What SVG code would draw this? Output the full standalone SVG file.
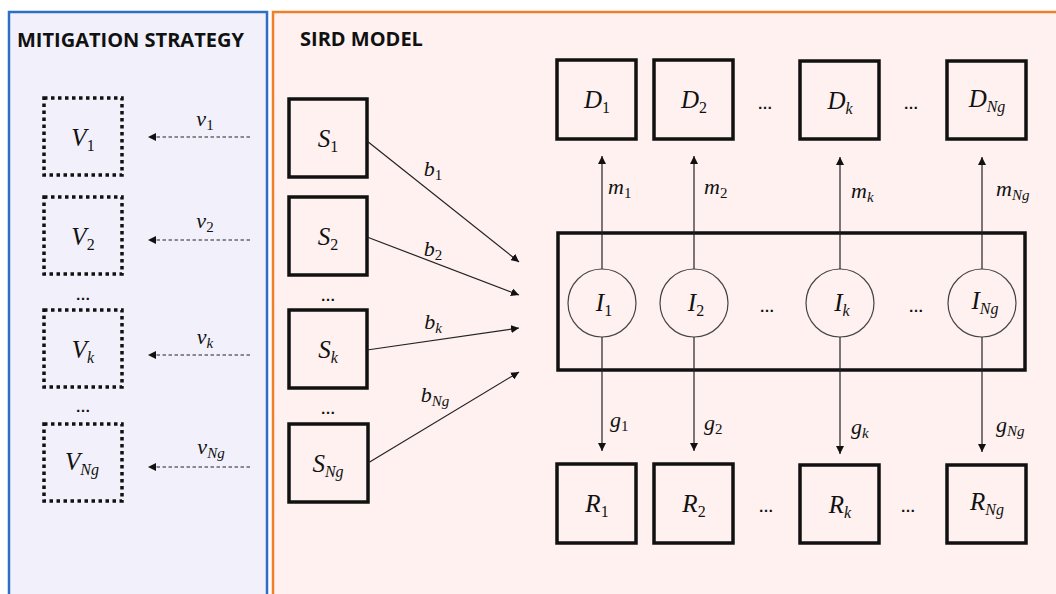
<svg xmlns="http://www.w3.org/2000/svg" width="1056" height="594" viewBox="0 0 1056 594">
<defs>
<marker id="ah" viewBox="0 0 10 10" refX="10" refY="5" markerWidth="8" markerHeight="8" markerUnits="userSpaceOnUse" orient="auto">
<path d="M0,0 L10,5 L0,10 z" fill="#111"/>
</marker>
</defs>
<style>
.title{font-family:"Open Sans","Liberation Sans",sans-serif;font-weight:bold;font-size:20px;fill:#111}
.box{fill:none;stroke:#111;stroke-width:3.5}
.vbox{fill:none;stroke:#111;stroke-width:3.5;stroke-dasharray:3.5 3.5}
.circ{fill:none;stroke:#444;stroke-width:1.2}
.m{font-family:"Liberation Serif","DejaVu Serif",serif;font-style:italic;font-size:25px;fill:#111}
.lab{font-family:"Liberation Serif","DejaVu Serif",serif;font-style:italic;font-size:22px;fill:#111}
.sub{font-size:16px}
.lab .sub{font-size:15px}
.up{font-style:normal}
.dots{font-family:"Liberation Sans",sans-serif;font-weight:bold;font-size:15px;fill:#111;text-anchor:middle}
.c{stroke:#222;stroke-width:1.2;fill:none;marker-end:url(#ah)}
.cd{stroke:#222;stroke-width:1.1;fill:none;stroke-dasharray:3.5 2.5;marker-end:url(#ah)}
</style>
<rect width="1056" height="594" fill="#ffffff"/>
<g id="panel-mitigation">
<rect x="9" y="12" width="258" height="600" fill="#f2f1fb" stroke="#2e6fc4" stroke-width="2.5"/>
<text class="title" x="17" y="47">MITIGATION STRATEGY</text>
</g>
<g id="panel-sird">
<rect x="273" y="12" width="800" height="600" fill="#fef1f0" stroke="#f07f2a" stroke-width="2.5"/>
<text class="title" x="300" y="46">SIRD MODEL</text>
</g>

<g id="V1"><rect class="vbox" x="44" y="98" width="78" height="77"/><text class="m" x="83" y="146" text-anchor="middle">V<tspan class="sub up" dy="5">1</tspan></text></g>
<g id="V2"><rect class="vbox" x="44" y="197" width="78" height="77"/><text class="m" x="83" y="245" text-anchor="middle">V<tspan class="sub up" dy="5">2</tspan></text></g>
<g id="Vk"><rect class="vbox" x="44" y="310" width="78" height="77"/><text class="m" x="83" y="358" text-anchor="middle">V<tspan class="sub" dy="5">k</tspan></text></g>
<g id="VNg"><rect class="vbox" x="44" y="424" width="78" height="77"/><text class="m" x="82" y="470" text-anchor="middle">V<tspan class="sub" dy="5">Ng</tspan></text></g>
<text class="dots" x="83" y="300">…</text>
<text class="dots" x="83" y="412">…</text>

<g id="S1"><rect class="box" x="289" y="99" width="78" height="78"/><text class="m" x="328" y="147" text-anchor="middle">S<tspan class="sub up" dy="5">1</tspan></text></g>
<g id="S2"><rect class="box" x="289" y="197" width="78" height="78"/><text class="m" x="328" y="245" text-anchor="middle">S<tspan class="sub up" dy="5">2</tspan></text></g>
<g id="Sk"><rect class="box" x="289" y="310" width="78" height="78"/><text class="m" x="328" y="358" text-anchor="middle">S<tspan class="sub" dy="5">k</tspan></text></g>
<g id="SNg"><rect class="box" x="289" y="424" width="79" height="78"/><text class="m" x="328" y="472" text-anchor="middle">S<tspan class="sub" dy="5">Ng</tspan></text></g>
<text class="dots" x="328" y="301">…</text>
<text class="dots" x="328" y="414">…</text>

<g id="D1"><rect class="box" x="557" y="60" width="79" height="79"/><text class="m" x="597" y="108" text-anchor="middle">D<tspan class="sub up" dy="5">1</tspan></text></g>
<g id="D2"><rect class="box" x="654" y="60" width="79" height="79"/><text class="m" x="694" y="108" text-anchor="middle">D<tspan class="sub up" dy="5">2</tspan></text></g>
<g id="Dk"><rect class="box" x="800" y="61" width="79" height="78"/><text class="m" x="840" y="109" text-anchor="middle">D<tspan class="sub" dy="5">k</tspan></text></g>
<g id="DNg"><rect class="box" x="947" y="61" width="79" height="78"/><text class="m" x="987" y="107" text-anchor="middle">D<tspan class="sub" dy="5">Ng</tspan></text></g>
<text class="dots" x="765" y="109">…</text>
<text class="dots" x="911" y="109">…</text>

<g id="I-group"><rect class="box" x="558" y="233" width="467" height="137"/></g>
<g id="I1"><circle class="circ" cx="602" cy="303" r="34"/><text class="m" x="604" y="311" text-anchor="middle">I<tspan class="sub up" dy="5">1</tspan></text></g>
<g id="I2"><circle class="circ" cx="694" cy="303" r="34"/><text class="m" x="696" y="311" text-anchor="middle">I<tspan class="sub up" dy="5">2</tspan></text></g>
<g id="Ik"><circle class="circ" cx="840" cy="303" r="34"/><text class="m" x="842" y="311" text-anchor="middle">I<tspan class="sub" dy="5">k</tspan></text></g>
<g id="INg"><circle class="circ" cx="982" cy="303" r="34"/><text class="m" x="985" y="309" text-anchor="middle">I<tspan class="sub" dy="5">Ng</tspan></text></g>
<text class="dots" x="767" y="312">…</text>
<text class="dots" x="916" y="312">…</text>

<g id="R1"><rect class="box" x="557" y="464" width="79" height="79"/><text class="m" x="597" y="512" text-anchor="middle">R<tspan class="sub up" dy="5">1</tspan></text></g>
<g id="R2"><rect class="box" x="654" y="464" width="79" height="79"/><text class="m" x="694" y="512" text-anchor="middle">R<tspan class="sub up" dy="5">2</tspan></text></g>
<g id="Rk"><rect class="box" x="800" y="465" width="79" height="78"/><text class="m" x="840" y="513" text-anchor="middle">R<tspan class="sub" dy="5">k</tspan></text></g>
<g id="RNg"><rect class="box" x="947" y="465" width="79" height="78"/><text class="m" x="987" y="510" text-anchor="middle">R<tspan class="sub" dy="5">Ng</tspan></text></g>
<text class="dots" x="766" y="512">…</text>
<text class="dots" x="908" y="512">…</text>

<g id="connectors">
<line class="cd" x1="250" y1="137" x2="148" y2="137"/>
<line class="cd" x1="250" y1="240" x2="148" y2="240"/>
<line class="cd" x1="250" y1="355" x2="148" y2="355"/>
<line class="cd" x1="250" y1="467" x2="148" y2="467"/>
<line class="c" x1="367" y1="141" x2="519" y2="262"/>
<line class="c" x1="367" y1="237" x2="519" y2="295"/>
<line class="c" x1="367" y1="350" x2="519" y2="328"/>
<line class="c" x1="368" y1="463" x2="519" y2="372"/>
<line class="c" x1="602" y1="269" x2="602" y2="156"/>
<line class="c" x1="694" y1="269" x2="694" y2="156"/>
<line class="c" x1="840" y1="269" x2="840" y2="157"/>
<line class="c" x1="982" y1="269" x2="982" y2="157"/>
<line class="c" x1="602" y1="337" x2="602" y2="451"/>
<line class="c" x1="694" y1="337" x2="694" y2="451"/>
<line class="c" x1="840" y1="337" x2="840" y2="454"/>
<line class="c" x1="982" y1="337" x2="982" y2="452"/>
</g>
<g id="connector-labels">
<text class="lab" x="205" y="126" text-anchor="middle">v<tspan class="sub up" dy="4">1</tspan></text>
<text class="lab" x="205" y="228" text-anchor="middle">v<tspan class="sub up" dy="4">2</tspan></text>
<text class="lab" x="205" y="344" text-anchor="middle">v<tspan class="sub" dy="4">k</tspan></text>
<text class="lab" x="211" y="454" text-anchor="middle">v<tspan class="sub" dy="4">Ng</tspan></text>
<text class="lab" x="433" y="176" text-anchor="middle">b<tspan class="sub up" dy="4">1</tspan></text>
<text class="lab" x="433" y="256" text-anchor="middle">b<tspan class="sub up" dy="4">2</tspan></text>
<text class="lab" x="433" y="329" text-anchor="middle">b<tspan class="sub" dy="4">k</tspan></text>
<text class="lab" x="435" y="402" text-anchor="middle">b<tspan class="sub" dy="4">Ng</tspan></text>
<text class="lab" x="608" y="194">m<tspan class="sub up" dy="4">1</tspan></text>
<text class="lab" x="704" y="194">m<tspan class="sub up" dy="4">2</tspan></text>
<text class="lab" x="851" y="198">m<tspan class="sub" dy="4">k</tspan></text>
<text class="lab" x="996" y="196">m<tspan class="sub" dy="4">Ng</tspan></text>
<text class="lab" x="610" y="427">g<tspan class="sub up" dy="4">1</tspan></text>
<text class="lab" x="704" y="430">g<tspan class="sub up" dy="4">2</tspan></text>
<text class="lab" x="851" y="434">g<tspan class="sub" dy="4">k</tspan></text>
<text class="lab" x="996" y="432">g<tspan class="sub" dy="4">Ng</tspan></text>
</g>
</svg>
